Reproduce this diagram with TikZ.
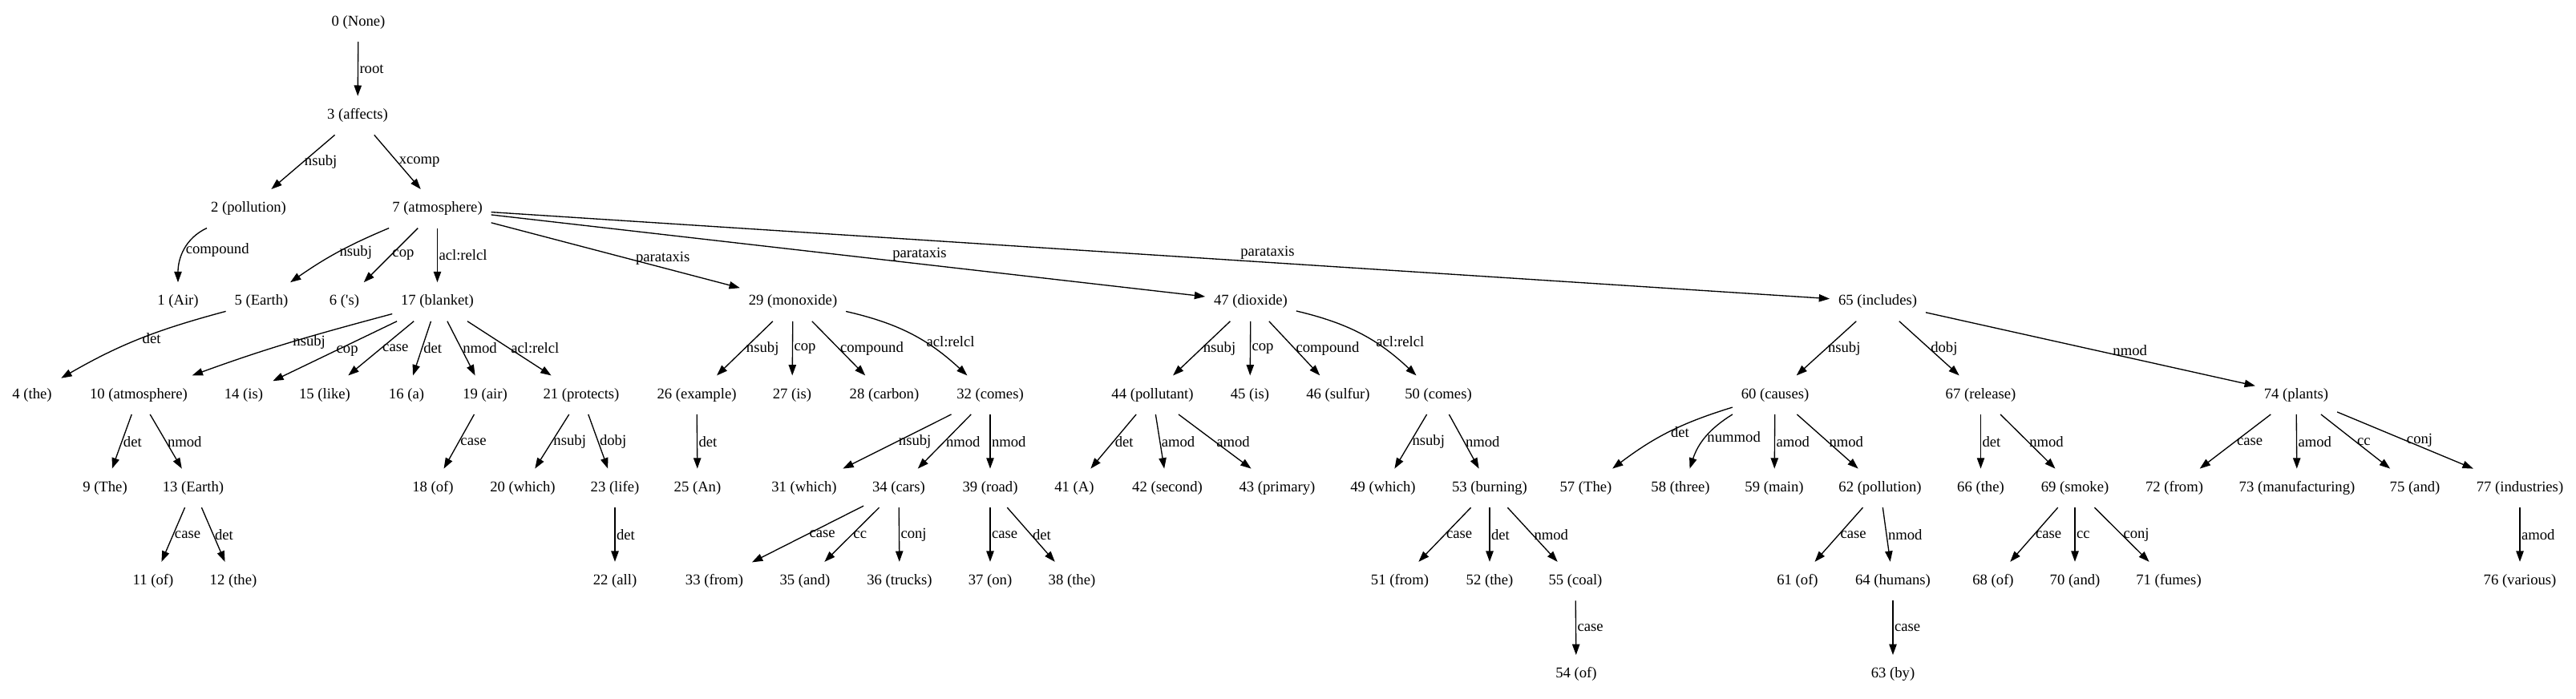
\documentclass[tikz,border=0pt]{standalone}
\usepackage{fontspec}
\setmainfont{Liberation Serif}
\usepackage{tikz}
\usetikzlibrary{arrows.meta}

\begin{document}
\begin{tikzpicture}[
        x=0.75pt, y=87.15pt,
        >={Triangle[length=10pt,width=7pt]},
        w/.style={inner xsep=8pt, inner ysep=4pt, minimum width=54pt, minimum height=36pt, font=\fontsize{14pt}{16pt}\selectfont},
        e/.style={->, line width=1pt},
        lbl/.style={right, inner sep=1pt, font=\fontsize{14pt}{16pt}\selectfont},
        plbl/.style={above, inner sep=2pt, font=\fontsize{14pt}{16pt}\selectfont}
    ]
        \useasboundingbox (0,0.24) rectangle (3213,-7.257);

        \node[w] (t0) at (447,0) {0 (None)};
        \node[w] (t3) at (446,-1) {3 (affects)};

        \node[w] (t2) at (310,-2)   {2 (pollution)};
        \node[w] (t7) at (545.5,-2) {7 (atmosphere)};

        \node[w] (t1)  at (222,-3)   {1 (Air)};
        \node[w] (t5)  at (326,-3)   {5 (Earth)};
        \node[w] (t6)  at (429.5,-3) {6 (\textquotesingle s)};
        \node[w] (t17) at (545.5,-3) {17 (blanket)};
        \node[w] (t29) at (989,-3)   {29 (monoxide)};
        \node[w] (t47) at (1560,-3)  {47 (dioxide)};
        \node[w] (t65) at (2342,-3)  {65 (includes)};

        \node[w] (t4)  at (40,-4)     {4 (the)};
        \node[w] (t10) at (173,-4)    {10 (atmosphere)};
        \node[w] (t14) at (304,-4)    {14 (is)};
        \node[w] (t15) at (405,-4)    {15 (like)};
        \node[w] (t16) at (507,-4)    {16 (a)};
        \node[w] (t19) at (605,-4)    {19 (air)};
        \node[w] (t21) at (725,-4)    {21 (protects)};
        \node[w] (t26) at (869,-4)    {26 (example)};
        \node[w] (t27) at (988,-4)    {27 (is)};
        \node[w] (t28) at (1103,-4)   {28 (carbon)};
        \node[w] (t32) at (1235,-4)   {32 (comes)};
        \node[w] (t44) at (1437.5,-4) {44 (pollutant)};
        \node[w] (t45) at (1559,-4)   {45 (is)};
        \node[w] (t46) at (1669,-4)   {46 (sulfur)};
        \node[w] (t50) at (1794,-4)   {50 (comes)};
        \node[w] (t60) at (2214,-4)   {60 (causes)};
        \node[w] (t67) at (2470.5,-4) {67 (release)};
        \node[w] (t74) at (2864,-4)   {74 (plants)};

        \node[w] (t9)  at (131,-5)    {9 (The)};
        \node[w] (t13) at (241,-5)    {13 (Earth)};
        \node[w] (t18) at (540,-5)    {18 (of)};
        \node[w] (t20) at (652,-5)    {20 (which)};
        \node[w] (t23) at (767,-5)    {23 (life)};
        \node[w] (t25) at (870,-5)    {25 (An)};
        \node[w] (t31) at (1003,-5)   {31 (which)};
        \node[w] (t34) at (1121,-5)   {34 (cars)};
        \node[w] (t39) at (1235,-5)   {39 (road)};
        \node[w] (t41) at (1340,-5)   {41 (A)};
        \node[w] (t42) at (1456,-5)   {42 (second)};
        \node[w] (t43) at (1593,-5)   {43 (primary)};
        \node[w] (t49) at (1725,-5)   {49 (which)};
        \node[w] (t53) at (1858,-5)   {53 (burning)};
        \node[w] (t57) at (1978,-5)   {57 (The)};
        \node[w] (t58) at (2096,-5)   {58 (three)};
        \node[w] (t59) at (2213,-5)   {59 (main)};
        \node[w] (t62) at (2345,-5)   {62 (pollution)};
        \node[w] (t66) at (2470.5,-5) {66 (the)};
        \node[w] (t69) at (2588,-5)   {69 (smoke)};
        \node[w] (t72) at (2712,-5)   {72 (from)};
        \node[w] (t73) at (2865,-5)   {73 (manufacturing)};
        \node[w] (t75) at (3012,-5)   {75 (and)};
        \node[w] (t77) at (3143,-5)   {77 (industries)};

        \node[w] (t11) at (191,-6)  {11 (of)};
        \node[w] (t12) at (291,-6)  {12 (the)};
        \node[w] (t22) at (767,-6)  {22 (all)};
        \node[w] (t33) at (891,-6)  {33 (from)};
        \node[w] (t35) at (1004,-6) {35 (and)};
        \node[w] (t36) at (1122,-6) {36 (trucks)};
        \node[w] (t37) at (1235,-6) {37 (on)};
        \node[w] (t38) at (1337,-6) {38 (the)};
        \node[w] (t51) at (1746,-6) {51 (from)};
        \node[w] (t52) at (1858,-6) {52 (the)};
        \node[w] (t55) at (1965,-6) {55 (coal)};
        \node[w] (t61) at (2242,-6) {61 (of)};
        \node[w] (t64) at (2361,-6) {64 (humans)};
        \node[w] (t68) at (2486,-6) {68 (of)};
        \node[w] (t70) at (2588,-6) {70 (and)};
        \node[w] (t71) at (2705,-6) {71 (fumes)};
        \node[w] (t76) at (3143,-6) {76 (various)};

        \node[w] (t54) at (1966,-7) {54 (of)};
        \node[w] (t63) at (2361,-7) {63 (by)};

        \draw[e] (t0) -- node[lbl] {root} (t3);
        \draw[e] (t3) -- node[lbl] {nsubj} (t2);
        \draw[e] (t3) -- node[lbl] {xcomp} (t7);
        \draw[e] (t2) to[out=205, in=90] node[lbl] {compound} (t1);
        \draw[e] (t7) to[bend right=6] node[lbl] {nsubj} (t5);
        \draw[e] (t7) -- node[lbl] {cop} (t6);
        \draw[e] (t7) -- node[lbl] {acl:relcl} (t17);
        \draw[e] (t7) -- node[plbl, pos=0.69] {parataxis} (t29);
        \draw[e] (t7) -- node[plbl, pos=0.6] {parataxis} (t47);
        \draw[e] (t7) -- node[plbl, pos=0.58] {parataxis} (t65);
        \draw[e] (t5) to[out=195, in=30] node[lbl] {det} (t4);
        \draw[e] (t17) to[out=195, in=20] node[lbl] {nsubj} (t10);
        \draw[e] (t17) -- node[lbl] {cop} (t14);
        \draw[e] (t17) -- node[lbl] {case} (t15);
        \draw[e] (t17) -- node[lbl] {det} (t16);
        \draw[e] (t17) -- node[lbl] {nmod} (t19);
        \draw[e] (t17) -- node[lbl] {acl:relcl} (t21);
        \draw[e] (t10) -- node[lbl] {det} (t9);
        \draw[e] (t10) -- node[lbl] {nmod} (t13);
        \draw[e] (t13) -- node[lbl] {case} (t11);
        \draw[e] (t13) -- node[lbl] {det} (t12);
        \draw[e] (t19) -- node[lbl] {case} (t18);
        \draw[e] (t21) -- node[lbl] {nsubj} (t20);
        \draw[e] (t21) -- node[lbl] {dobj} (t23);
        \draw[e] (t23) -- node[lbl] {det} (t22);
        \draw[e] (t29) -- node[lbl] {nsubj} (t26);
        \draw[e] (t29) -- node[lbl] {cop} (t27);
        \draw[e] (t29) -- node[lbl] {compound} (t28);
        \draw[e] (t29) to[bend left=15] node[lbl, pos=0.62] {acl:relcl} (t32);
        \draw[e] (t26) -- node[lbl] {det} (t25);
        \draw[e] (t32) -- node[lbl] {nsubj} (t31);
        \draw[e] (t32) -- node[lbl] {nmod} (t34);
        \draw[e] (t32) -- node[lbl] {nmod} (t39);
        \draw[e] (t34) -- node[lbl] {case} (t33);
        \draw[e] (t34) -- node[lbl] {cc} (t35);
        \draw[e] (t34) -- node[lbl] {conj} (t36);
        \draw[e] (t39) -- node[lbl] {case} (t37);
        \draw[e] (t39) -- node[lbl] {det} (t38);
        \draw[e] (t47) -- node[lbl] {nsubj} (t44);
        \draw[e] (t47) -- node[lbl] {cop} (t45);
        \draw[e] (t47) -- node[lbl] {compound} (t46);
        \draw[e] (t47) to[bend left=15] node[lbl, pos=0.62] {acl:relcl} (t50);
        \draw[e] (t44) -- node[lbl] {det} (t41);
        \draw[e] (t44) -- node[lbl] {amod} (t42);
        \draw[e] (t44) -- node[lbl] {amod} (t43);
        \draw[e] (t50) -- node[lbl] {nsubj} (t49);
        \draw[e] (t50) -- node[lbl] {nmod} (t53);
        \draw[e] (t53) -- node[lbl] {case} (t51);
        \draw[e] (t53) -- node[lbl] {det} (t52);
        \draw[e] (t53) -- node[lbl] {nmod} (t55);
        \draw[e] (t55) -- node[lbl] {case} (t54);
        \draw[e] (t65) -- node[lbl] {nsubj} (t60);
        \draw[e] (t65) -- node[lbl] {dobj} (t67);
        \draw[e] (t65) -- node[plbl, pos=0.62] {nmod} (t74);
        \draw[e] (t60) to[bend right=10] node[lbl] {det} (t57);
        \draw[e] (t60) to[bend right=20] node[lbl] {nummod} (t58);
        \draw[e] (t60) -- node[lbl] {amod} (t59);
        \draw[e] (t60) -- node[lbl] {nmod} (t62);
        \draw[e] (t62) -- node[lbl] {case} (t61);
        \draw[e] (t62) -- node[lbl] {nmod} (t64);
        \draw[e] (t64) -- node[lbl] {case} (t63);
        \draw[e] (t67) -- node[lbl] {det} (t66);
        \draw[e] (t67) -- node[lbl] {nmod} (t69);
        \draw[e] (t69) -- node[lbl] {case} (t68);
        \draw[e] (t69) -- node[lbl] {cc} (t70);
        \draw[e] (t69) -- node[lbl] {conj} (t71);
        \draw[e] (t74) -- node[lbl] {case} (t72);
        \draw[e] (t74) -- node[lbl] {amod} (t73);
        \draw[e] (t74) -- node[lbl] {cc} (t75);
        \draw[e] (t74) -- node[lbl] {conj} (t77);
        \draw[e] (t77) -- node[lbl] {amod} (t76);
    \end{tikzpicture}
\end{document}
